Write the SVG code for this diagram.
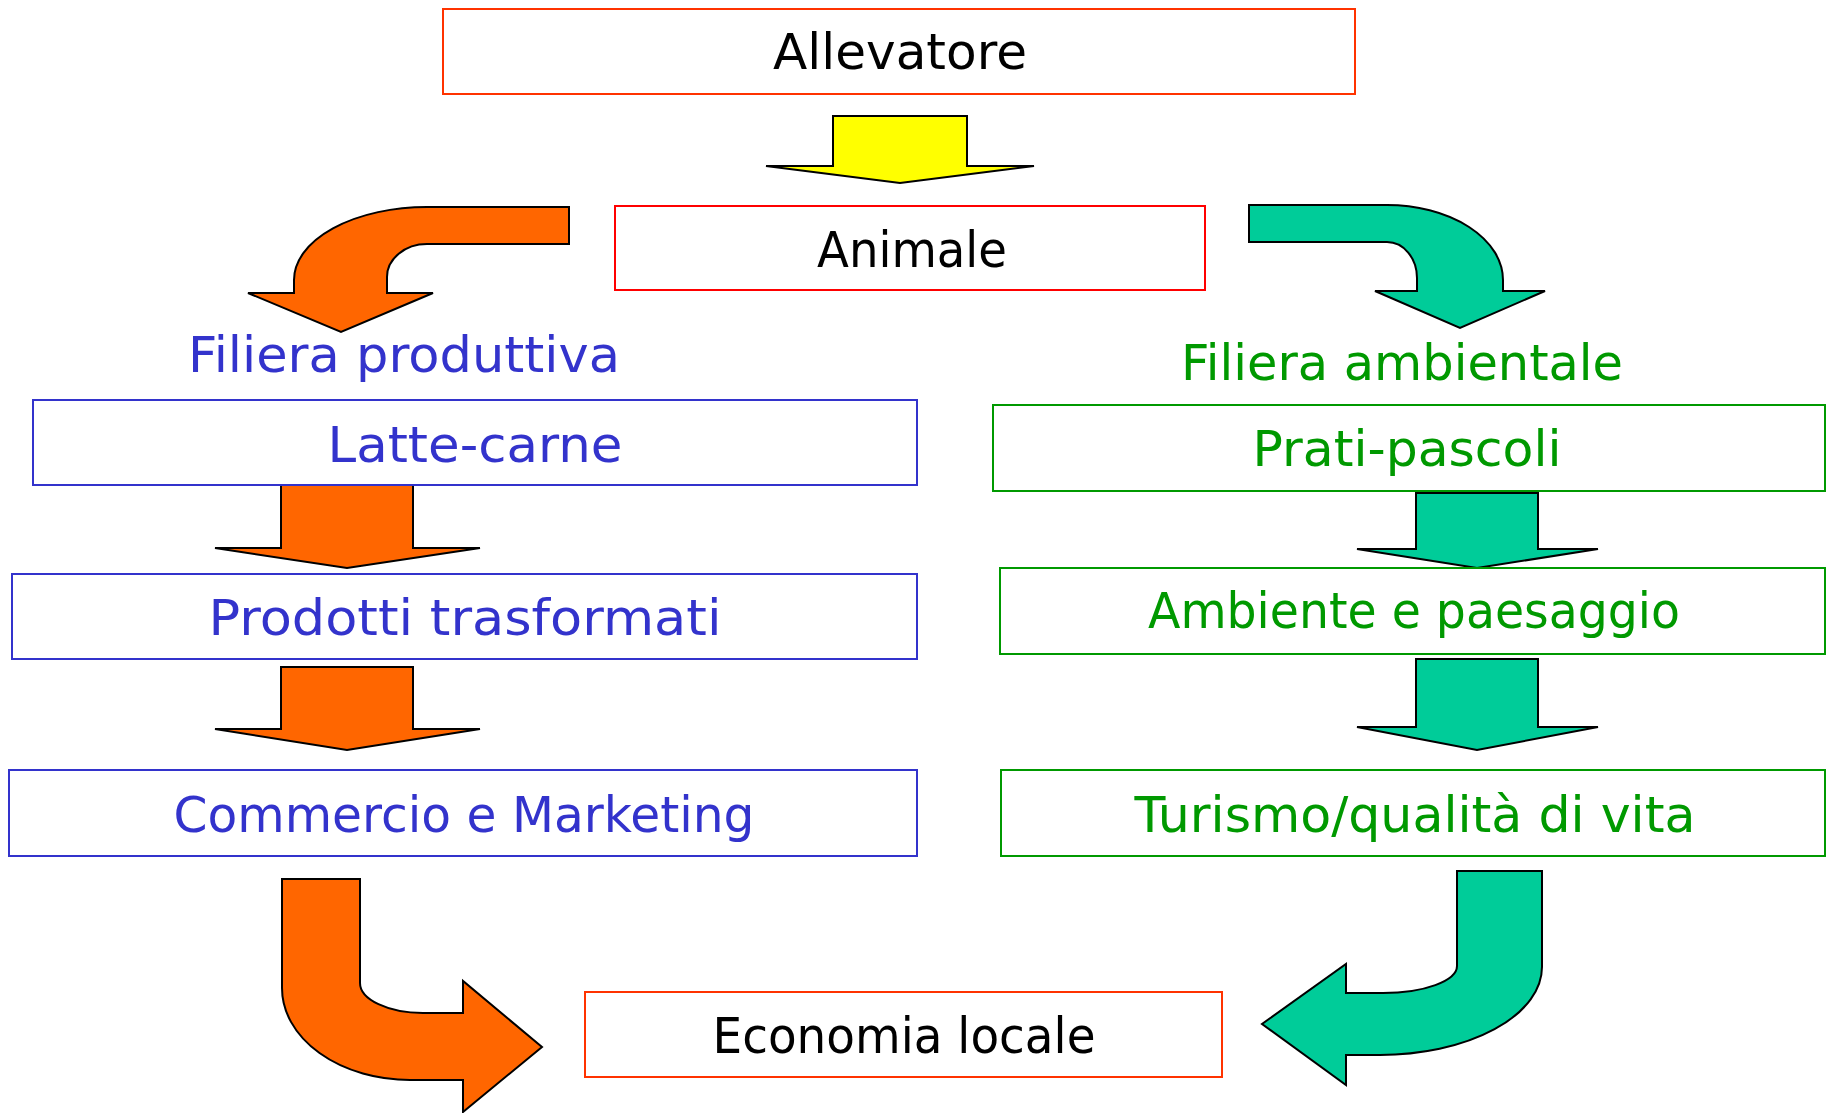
<svg xmlns="http://www.w3.org/2000/svg" width="1833" height="1113" viewBox="0 0 1833 1113">
<style>
  .box { fill: #ffffff; stroke-width: 2; }
  .red { stroke: #ff3300; }
  .red2 { stroke: #ff0000; }
  .blue { stroke: #3333cc; }
  .green { stroke: #009900; }
  text { font-family: "DejaVu Sans", "Liberation Sans", sans-serif; font-size: 50px; text-anchor: middle; }
  .tk { fill: #000000; }
  .tb { fill: #3333cc; }
  .tg { fill: #009900; }
  .arr { stroke: #000000; stroke-width: 2; stroke-linejoin: miter; }
  .or { fill: #ff6600; }
  .te { fill: #00cc99; }
  .ye { fill: #ffff00; }
</style>
<rect width="1833" height="1113" fill="#ffffff"/>
<g id="connectors">
  <polygon class="arr ye" points="833,116 967,116 967,166 1034,166 900,183 766,166 833,166"/>
  <path class="arr or" d="M 569 207 L 427 207 A 133 73 0 0 0 294 280 L 294 293 L 248 293 L 341 332 L 433 293 L 387 293 L 387 277 A 40 33 0 0 1 427 244 L 569 244 Z"/>
  <path class="arr te" d="M 1249 205 L 1387 205 A 116 75 0 0 1 1503 280 L 1503 291 L 1545 291 L 1460 328 L 1375 291 L 1417 291 L 1417 278 A 30 36 0 0 0 1387 242 L 1249 242 Z"/>
  <polygon class="arr or" points="281,485 413,485 413,548 480,548 347,568 215,548 281,548"/>
  <polygon class="arr or" points="281,667 413,667 413,729 480,729 347,750 215,729 281,729"/>
  <polygon class="arr te" points="1416,493 1538,493 1538,549 1598,549 1477,568 1357,549 1416,549"/>
  <polygon class="arr te" points="1416,659 1538,659 1538,727 1598,727 1477,750 1357,727 1416,727"/>
  <path class="arr or" d="M 282 879 L 360 879 L 360 983 A 63 30 0 0 0 423 1013 L 463 1013 L 463 981 L 542 1047 L 463 1112 L 463 1080 L 410 1080 A 128 92 0 0 1 282 988 Z"/>
  <path class="arr te" d="M 1457 871 L 1542 871 L 1542 967 A 162 88 0 0 1 1380 1055 L 1346 1055 L 1346 1085 L 1262 1024 L 1346 964 L 1346 993 L 1383 993 A 74 27 0 0 0 1457 966 Z"/>
</g>
<g id="allevatore">
  <rect class="box red" x="443" y="9" width="912" height="85"/>
  <text class="tk" x="900" y="69" textLength="254" lengthAdjust="spacingAndGlyphs">Allevatore</text>
</g>
<g id="animale">
  <rect class="box red2" x="615" y="206" width="590" height="84"/>
  <text class="tk" x="912" y="267" textLength="190" lengthAdjust="spacingAndGlyphs">Animale</text>
</g>
<g id="filiera-produttiva">
  <text class="tb" x="404" y="372" textLength="432" lengthAdjust="spacingAndGlyphs">Filiera produttiva</text>
</g>
<g id="filiera-ambientale">
  <text class="tg" x="1402" y="380" textLength="442" lengthAdjust="spacingAndGlyphs">Filiera ambientale</text>
</g>
<g id="latte-carne">
  <rect class="box blue" x="33" y="400" width="884" height="85"/>
  <text class="tb" x="475" y="462" textLength="295" lengthAdjust="spacingAndGlyphs">Latte-carne</text>
</g>
<g id="prati-pascoli">
  <rect class="box green" x="993" y="405" width="832" height="86"/>
  <text class="tg" x="1407" y="466" textLength="309" lengthAdjust="spacingAndGlyphs">Prati-pascoli</text>
</g>
<g id="prodotti-trasformati">
  <rect class="box blue" x="12" y="574" width="905" height="85"/>
  <text class="tb" x="465" y="635" textLength="513" lengthAdjust="spacingAndGlyphs">Prodotti trasformati</text>
</g>
<g id="ambiente-paesaggio">
  <rect class="box green" x="1000" y="568" width="825" height="86"/>
  <text class="tg" x="1414" y="628" textLength="532" lengthAdjust="spacingAndGlyphs">Ambiente e paesaggio</text>
</g>
<g id="commercio-marketing">
  <rect class="box blue" x="9" y="770" width="908" height="86"/>
  <text class="tb" x="464" y="832" textLength="581" lengthAdjust="spacingAndGlyphs">Commercio e Marketing</text>
</g>
<g id="turismo">
  <rect class="box green" x="1001" y="770" width="824" height="86"/>
  <text class="tg" x="1415" y="832" textLength="561" lengthAdjust="spacingAndGlyphs">Turismo/qualità di vita</text>
</g>
<g id="economia-locale">
  <rect class="box red" x="585" y="992" width="637" height="85"/>
  <text class="tk" x="904" y="1053" textLength="383" lengthAdjust="spacingAndGlyphs">Economia locale</text>
</g>
</svg>
